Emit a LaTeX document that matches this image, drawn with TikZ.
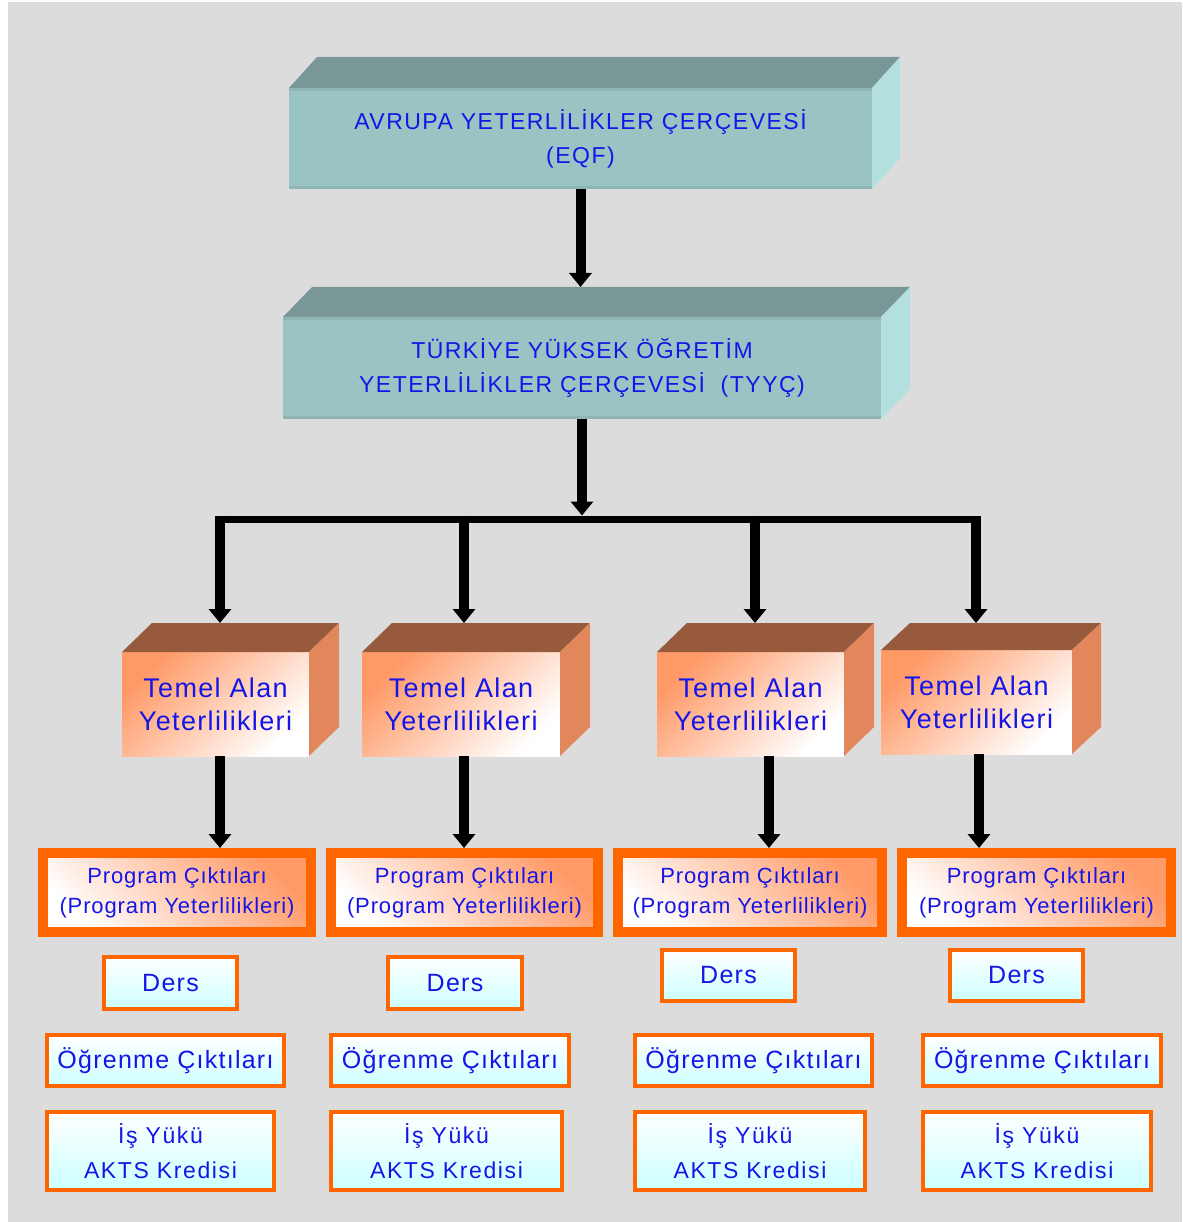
\documentclass[tikz,border=0pt]{standalone}
\usepackage{fontspec}
\setmainfont{Liberation Sans}
\usetikzlibrary{arrows.meta,calc}
\definecolor{bgc}{HTML}{DCDCDC}
\definecolor{tealF}{HTML}{9AC3C3}
\definecolor{tealT}{HTML}{799796}
\definecolor{tealS}{HTML}{B3DFDF}
\definecolor{tealB}{HTML}{8FB5B5}
\definecolor{temT}{HTML}{985A3C}
\definecolor{temS}{HTML}{E2875B}
\definecolor{temO}{HTML}{FF9966}
\definecolor{orgB}{HTML}{FF6600}
\definecolor{cyanL}{HTML}{CCFFFF}
\definecolor{txtB}{HTML}{1515E8}
\newcommand{\cubefaces}[5]{%
  \fill[#4] (#1.north west) -- ++(#2,#3) -- ($(#1.north east)+(#2,#3)$) -- (#1.north east) -- cycle;
  \fill[#5] (#1.north east) -- ++(#2,#3) -- ($(#1.south east)+(#2,#3)$) -- (#1.south east) -- cycle;
}
\begin{document}
\begin{tikzpicture}[x=1pt,y=-1pt,
  tealbox/.style={fill=tealF, inner sep=0pt, outer sep=0pt, align=center, text=txtB,
    font=\fontsize{23}{34}\selectfont\addfontfeature{LetterSpace=6.5}},
  temel/.style={top color=temO, bottom color=white, shading angle=45, inner sep=0pt, outer sep=0pt,
    minimum height=104pt, align=center, text=txtB,
    font=\fontsize{27}{33}\selectfont\addfontfeature{LetterSpace=5}},
  prog/.style={draw=orgB, line width=10pt, top color=temO, middle color=temO!30!white, bottom color=white,
    shading angle=-45, inner sep=0pt, minimum height=79pt, align=center, text=txtB,
    font=\fontsize{22}{30}\selectfont\addfontfeature{LetterSpace=4}},
  small/.style={draw=orgB, line width=4pt, top color=white, bottom color=cyanL,
    inner sep=0pt, align=center, text=txtB,
    font=\fontsize{25}{35}\selectfont\addfontfeature{LetterSpace=5}},
  iss/.style={small, font=\fontsize{23}{35}\selectfont\addfontfeature{LetterSpace=7}},
  arr/.style={line width=10pt, -{Triangle[width=22pt,length=14pt]}},
  band/.style={tealB, line width=3pt}
]
\useasboundingbox (0,0) rectangle (1182,1222);
\fill[bgc] (8,2) rectangle (1182,1222);

% top boxes
\node[tealbox, minimum width=583pt, minimum height=101pt] (eqf) at (580.5,138.5)
  {AVRUPA YETERLİLİKLER ÇERÇEVESİ\\(EQF)};
\cubefaces{eqf}{28}{-31}{tealT}{tealS}
\draw[band] ([yshift=-1.5pt]eqf.north west) -- ([yshift=-1.5pt]eqf.north east);
\draw[band] ([yshift=1.5pt]eqf.south west) -- ([yshift=1.5pt]eqf.south east);

\node[tealbox, minimum width=598pt, minimum height=102pt] (tyyc) at (582,368)
  {TÜRKİYE YÜKSEK ÖĞRETİM\\YETERLİLİKLER ÇERÇEVESİ\ \ (TYYÇ)};
\cubefaces{tyyc}{29}{-30}{tealT}{tealS}
\draw[band] ([yshift=-1.5pt]tyyc.north west) -- ([yshift=-1.5pt]tyyc.north east);
\draw[band] ([yshift=1.5pt]tyyc.south west) -- ([yshift=1.5pt]tyyc.south east);

% Temel boxes
\node[temel, minimum width=187pt] (temA) at (215.5,704) {Temel Alan\\Yeterlilikleri};
\node[temel, minimum width=198pt] (temB) at (461,704) {Temel Alan\\Yeterlilikleri};
\node[temel, minimum width=187pt] (temC) at (750.5,704) {Temel Alan\\Yeterlilikleri};
\node[temel, minimum width=191pt] (temD) at (976.5,702) {Temel Alan\\Yeterlilikleri};
\cubefaces{temA}{30}{-29}{temT}{temS}
\cubefaces{temB}{30}{-29}{temT}{temS}
\cubefaces{temC}{30}{-29}{temT}{temS}
\cubefaces{temD}{29}{-27}{temT}{temS}

% Program boxes
\node[prog, minimum width=268pt] (progA) at (177,892.5) {Program Çıktıları\\(Program Yeterlilikleri)};
\node[prog, minimum width=267pt] (progB) at (464.5,892.5) {Program Çıktıları\\(Program Yeterlilikleri)};
\node[prog, minimum width=264pt] (progC) at (750,892.5) {Program Çıktıları\\(Program Yeterlilikleri)};
\node[prog, minimum width=269pt] (progD) at (1036.5,892.5) {Program Çıktıları\\(Program Yeterlilikleri)};

% Ders
\node[small, minimum width=133pt, minimum height=52pt] (dersA) at (170.5,983) {Ders};
\node[small, minimum width=134pt, minimum height=52pt] (dersB) at (455,983) {Ders};
\node[small, minimum width=133pt, minimum height=51pt] (dersC) at (728.5,975.5) {Ders};
\node[small, minimum width=133pt, minimum height=51pt] (dersD) at (1016.5,975.5) {Ders};

% Ogrenme
\node[small, minimum width=237pt, minimum height=51pt] (ogrA) at (165.5,1060.5) {Öğrenme Çıktıları};
\node[small, minimum width=238pt, minimum height=51pt] (ogrB) at (450,1060.5) {Öğrenme Çıktıları};
\node[small, minimum width=237pt, minimum height=51pt] (ogrC) at (753.5,1060.5) {Öğrenme Çıktıları};
\node[small, minimum width=238pt, minimum height=51pt] (ogrD) at (1042,1060.5) {Öğrenme Çıktıları};

% Is yuku
\node[iss, minimum width=227pt, minimum height=78pt] (isA) at (160.5,1151) {İş Yükü\\AKTS Kredisi};
\node[iss, minimum width=231pt, minimum height=78pt] (isB) at (446.5,1151) {İş Yükü\\AKTS Kredisi};
\node[iss, minimum width=230pt, minimum height=78pt] (isC) at (750,1151) {İş Yükü\\AKTS Kredisi};
\node[iss, minimum width=228pt, minimum height=78pt] (isD) at (1037,1151) {İş Yükü\\AKTS Kredisi};

% connectors
\draw[arr] (eqf.south) -- ($(eqf.south |- tyyc.north)+(0,-30)$);
\coordinate (bar) at ($(tyyc.south)+(0,100)$);
\coordinate (bL) at (220,519);
\coordinate (bB) at (464,519);
\coordinate (bC) at (755,519);
\coordinate (bR) at (976,519);
\draw[line width=7pt] ([xshift=-5pt]bL) -- ([xshift=5pt]bR);
\draw[arr] (tyyc.south) -- ([yshift=3.5pt]bar);
\coordinate (temAtop) at ($(temA.north)+(0,-29)$);
\coordinate (temBtop) at ($(temB.north)+(0,-29)$);
\coordinate (temCtop) at ($(temC.north)+(0,-29)$);
\coordinate (temDtop) at ($(temD.north)+(0,-27)$);
\draw[arr] ([yshift=3.5pt]bL) -- (bL |- temAtop);
\draw[arr] ([yshift=3.5pt]bB) -- (bB |- temBtop);
\draw[arr] ([yshift=3.5pt]bC) -- (bC |- temCtop);
\draw[arr] ([yshift=3.5pt]bR) -- (bR |- temDtop);

\draw[arr] ([xshift=4.5pt]temA.south) -- ([xshift=4.5pt]temA.south |- progA.north);
\draw[arr] ([xshift=3pt]temB.south) -- ([xshift=3pt]temB.south |- progB.north);
\draw[arr] ([xshift=18.5pt]temC.south) -- ([xshift=18.5pt]temC.south |- progC.north);
\draw[arr] ([xshift=2.5pt]temD.south) -- ([xshift=2.5pt]temD.south |- progD.north);
\end{tikzpicture}
\end{document}
